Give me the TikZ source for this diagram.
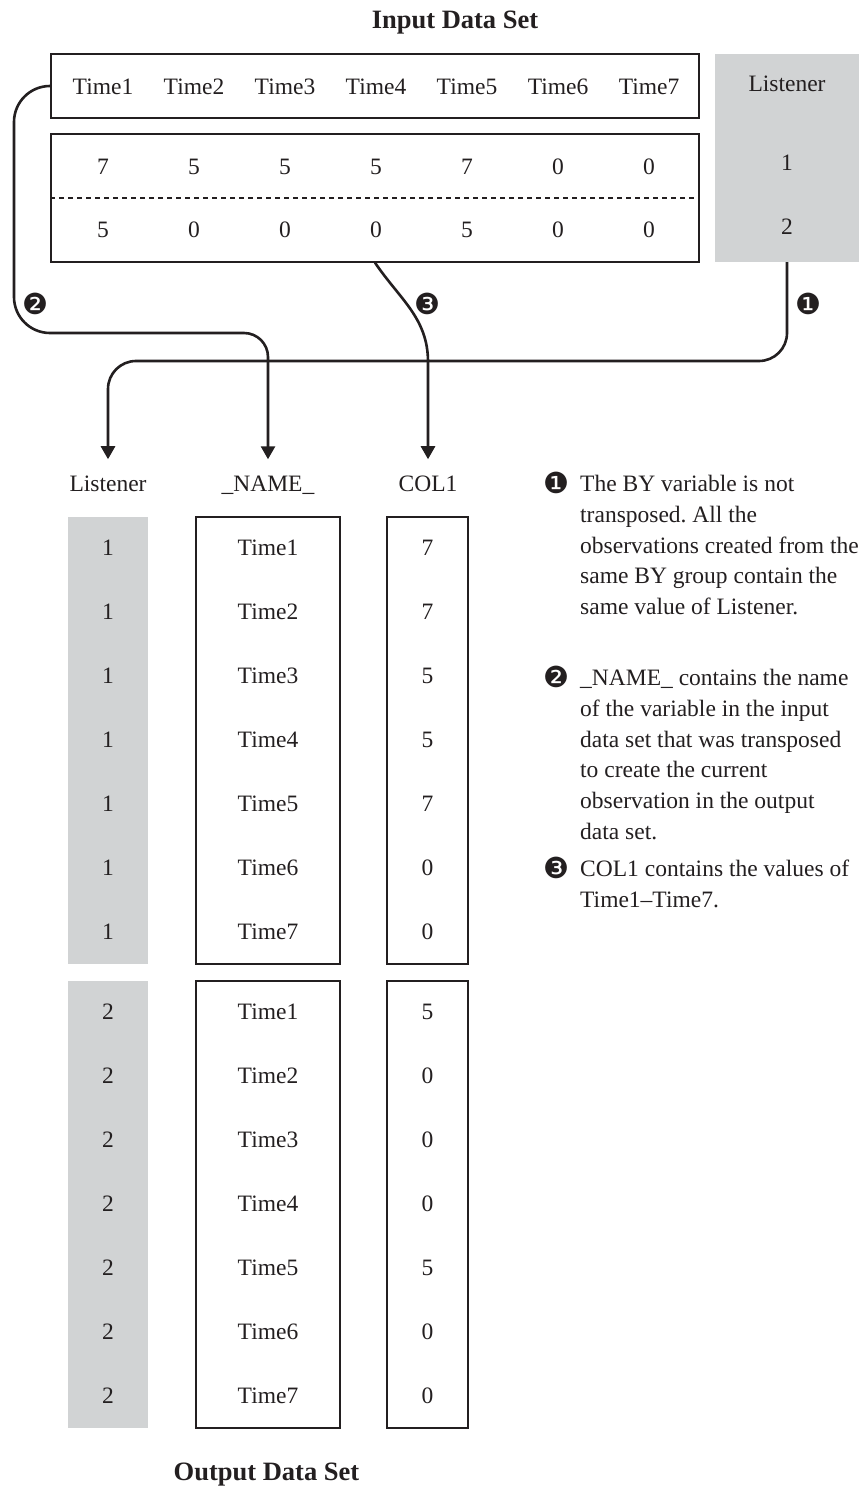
\documentclass[tikz,border=0pt]{standalone}
\usepackage{fontspec}
\setmainfont{Liberation Serif}
\newfontfamily\dingfont{DejaVu Sans}
\usepackage{tikz}
\usetikzlibrary{arrows.meta,calc,positioning}
\definecolor{ink}{HTML}{231F20}
\definecolor{bycol}{HTML}{D1D3D4}
\frenchspacing
\tikzset{
  body/.style={font=\fontsize{23.5}{30.8}\selectfont, text=ink},
  cell/.style={body, anchor=base, inner sep=0pt},
  framebox/.style={draw=ink, line width=1.3pt, fill=white, inner sep=0pt},
  bybox/.style={fill=bycol, inner sep=0pt},
  colhead/.style={body, anchor=base, inner xsep=0pt, inner ysep=16pt},
  title/.style={font=\fontsize{26.5}{30}\selectfont\bfseries, text=ink, anchor=base, inner sep=0pt},
  callout/.style={font=\dingfont\fontsize{29}{30}\selectfont, text=ink, inner sep=0pt},
  flow/.style={draw=ink, line width=2.6pt, -{Triangle[width=14pt,length=13pt]}},
  divider/.style={draw=ink, line width=1.2pt, dash pattern=on 5pt off 4pt},
  note/.style={body, anchor=north west, align=left, inner sep=0pt}
}

\begin{document}
\begin{tikzpicture}[x=1pt,y=1pt]
\path[use as bounding box] (0,0) rectangle (864,-1487);
\fill[white] (0,0) rectangle (864,-1487);

% input data set
\node[title] (intitle) at (455,-29) {Input Data Set};
\node[framebox, minimum width=648pt, minimum height=64pt] (hdr) at (375,-86) {};
\node[framebox, minimum width=648pt, minimum height=128pt] (vals) at (375,-198) {};
\draw[divider] (vals.west) -- (vals.east);
\node[bybox, minimum width=144pt, minimum height=208pt] (lsn) at (787,-158) {};
\node[cell] (lsnhead) at (787,-92) {Listener};
\node[cell] (lsn1) at (787,-171) {1};
\node[cell] (lsn2) at (787,-235) {2};

\foreach \v [count=\i] in {7,5,5,5,7,0,0}
  \node[cell] (h\i) at ({103+91*(\i-1)},-95) {Time\i};
\foreach \v [count=\i] in {7,5,5,5,7,0,0}
  \node[cell] (a\i) at ({103+91*(\i-1)},-175) {\v};
\foreach \v [count=\i] in {5,0,0,0,5,0,0}
  \node[cell] (b\i) at ({103+91*(\i-1)},-238) {\v};

% output data set
\node[colhead] (oLsn) at (108,-491) {Listener};
\node[colhead] (oName) at (268,-491) {\_NAME\_};
\node[colhead] (oCol) at (428,-491) {COL1};

\node[bybox, minimum width=80pt, minimum height=447pt] (grp1) at (108,-740.5) {};
\node[framebox, minimum width=144pt, minimum height=447pt] (nm1) at (268,-740.5) {};
\node[framebox, minimum width=81pt, minimum height=447pt] (col1) at (427.5,-740.5) {};
\node[bybox, minimum width=80pt, minimum height=447pt] (grp2) at (108,-1204.5) {};
\node[framebox, minimum width=144pt, minimum height=447pt] (nm2) at (268,-1204.5) {};
\node[framebox, minimum width=81pt, minimum height=447pt] (col2) at (427.5,-1204.5) {};

\foreach \v [count=\i] in {7,7,5,5,7,0,0} {
  \node[cell] (l1-\i) at (108,{-555-64*(\i-1)}) {1};
  \node[cell] (n1-\i) at (268,{-555-64*(\i-1)}) {Time\i};
  \node[cell] (v1-\i) at (427.5,{-555-64*(\i-1)}) {\v};
}
\foreach \v [count=\i] in {5,0,0,0,5,0,0} {
  \node[cell] (l2-\i) at (108,{-1019-64*(\i-1)}) {2};
  \node[cell] (n2-\i) at (268,{-1019-64*(\i-1)}) {Time\i};
  \node[cell] (v2-\i) at (427.5,{-1019-64*(\i-1)}) {\v};
}

\node[title] (outtitle) at (266.5,-1480) {Output Data Set};

% connectors
\coordinate (bend1) at (0,-361);
\coordinate (bend2) at (14,-333);
\coordinate (bend3) at (0,-362);
\draw[flow, rounded corners=28pt] (lsn.south) |- (oLsn.north |- bend1) -- (oLsn.north);
\draw[flow] (hdr.west) [rounded corners=36pt] -| (bend2) [rounded corners=24pt] -| (oName.north);
\draw[flow] (vals.south) to[out=-56,in=90] (oCol.north |- bend3) -- (oCol.north);

\node[callout] (c1) at (808,-304) {❶};
\node[callout] (c2) at (35,-304) {❷};
\node[callout] (c3) at (427,-304) {❸};

% notes
\node[callout] (m1) at (556,-483) {❶};
\node[callout] (m2) at (556,-677) {❷};
\node[callout] (m3) at (556,-868) {❸};
\node[note] (t1) at (580,-475) {The BY variable is not\\transposed. All the\\observations created from the\\same BY group contain the\\same value of Listener.};
\node[note] (t2) at (580,-669) {\_NAME\_ contains the name\\of the variable in the input\\data set that was transposed\\to create the current\\observation in the output\\data set.};
\node[note] (t3) at (580,-860) {COL1 contains the values of\\Time1–Time7.};

\end{tikzpicture}
\end{document}
